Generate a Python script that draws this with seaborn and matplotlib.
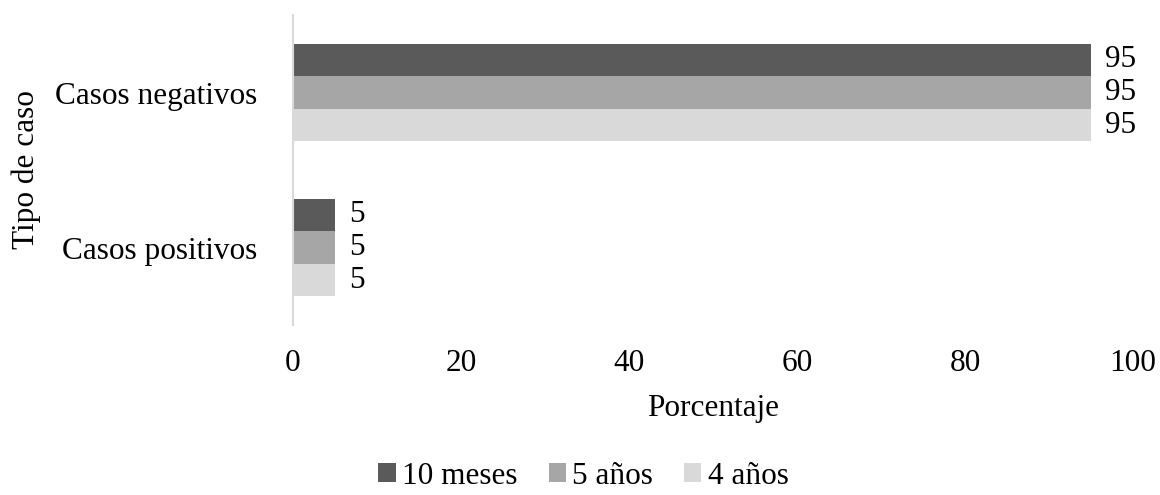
import numpy as np
import pandas as pd
import seaborn as sns
import matplotlib.pyplot as plt

sns.set_style("white")
plt.rcParams['font.family'] = ['Liberation Serif', 'DejaVu Serif']
plt.rcParams['text.color'] = 'black'
plt.rcParams['axes.labelcolor'] = 'black'
plt.rcParams['xtick.color'] = 'black'
plt.rcParams['ytick.color'] = 'black'

# datos
tipos = ["Casos negativos", "Casos positivos"]
grupos = ["10 meses", "5 años", "4 años"]
negativos = [95, 95, 95]
positivos = [5, 5, 5]
colores = ["#5a5a5a", "#a6a6a6", "#d9d9d9"]

df = pd.DataFrame({
    "tipo": [tipos[0]] * 3 + [tipos[1]] * 3,
    "grupo": grupos + grupos,
    "pct": negativos + positivos,
})

fs = 22.5

fig, ax = plt.subplots(figsize=(11.6, 4.95), dpi=100)
fig.subplots_adjust(left=0.2526, right=0.9767, bottom=0.3434, top=0.9697)

sns.barplot(data=df, y="tipo", x="pct", hue="grupo", order=tipos, hue_order=grupos,
            palette=colores, width=0.63, orient="h", ax=ax, saturation=1,
            linewidth=0, legend=True)

for cont in ax.containers:
    ax.bar_label(cont, labels=[f"{v:.0f}" for v in cont.datavalues], padding=10, fontsize=fs)

ax.set_xlim(0, 100)
ax.set_xticks(np.arange(0, 101, 20))
ax.tick_params(axis="both", labelsize=fs, length=0)
ax.tick_params(axis="x", pad=17)
ax.tick_params(axis="y", pad=26)
ax.set_xlabel("Porcentaje", fontsize=fs, labelpad=12)
ax.set_ylabel("Tipo de caso", fontsize=fs, labelpad=10)

for s in ["top", "right", "bottom"]:
    ax.spines[s].set_visible(False)
ax.spines["left"].set_color("#d9d9d9")
ax.spines["left"].set_linewidth(1.5)

handles, labels = ax.get_legend_handles_labels()
ax.legend_.remove()
fig.legend(handles, labels, loc="center", bbox_to_anchor=(0.503, 0.038), ncol=3,
           frameon=False, fontsize=fs, handlelength=0.55, handleheight=0.55,
           handletextpad=0.2, columnspacing=1.0, borderpad=0)

fig.savefig("out.png", dpi=100)
